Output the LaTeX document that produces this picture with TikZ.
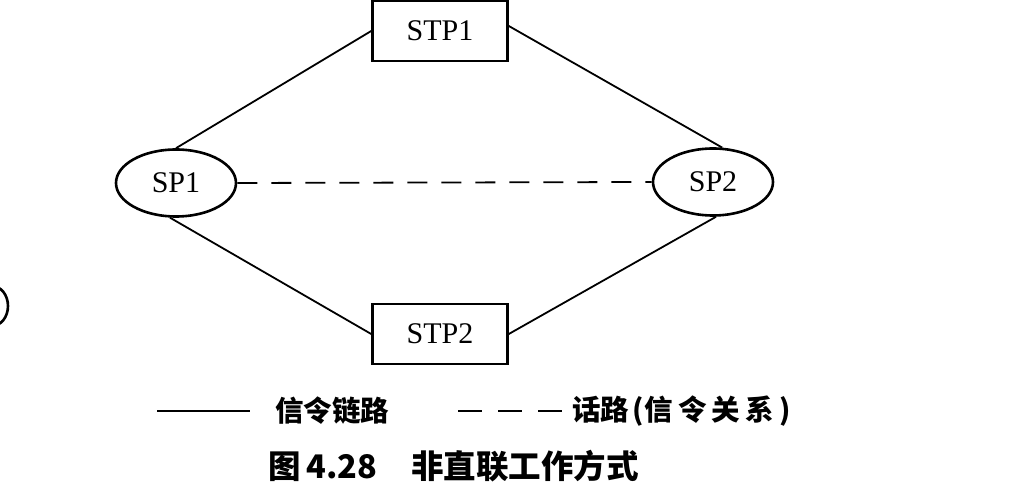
\documentclass[tikz,border=0pt]{standalone}
\usepackage{fontspec}
\setmainfont{Liberation Serif}
\newfontfamily\cjk{Noto Sans CJK SC}
\usetikzlibrary{shapes.geometric}
\tikzset{
  stpbox/.style={draw, line width=2.6pt, minimum width=135pt, minimum height=60pt, inner sep=0pt,
    font=\fontsize{30}{32}\selectfont},
  spell/.style={ellipse, draw, line width=2.6pt, minimum width=120pt, minimum height=67pt, inner sep=0pt,
    font=\fontsize{30}{32}\selectfont},
  link/.style={line width=1.8pt},
  rel/.style={line width=1.8pt, dash pattern=on 20pt off 14pt},
  legtext/.style={font=\cjk\bfseries\fontsize{28.5}{30}\selectfont, inner sep=0pt},
  captext/.style={font=\cjk\bfseries\fontsize{32.5}{34}\selectfont, inner sep=0pt}
}
\begin{document}
\begin{tikzpicture}[x=1pt, y=-1pt]
  \useasboundingbox (0,0) rectangle (1028,494);
  \fill[white] (0,0) rectangle (1028,494);
  % nodes
  \node[stpbox] (stp1) at (440,31) {STP1};
  \node[stpbox] (stp2) at (440,334) {STP2};
  \node[spell] (sp1) at (176,183) {SP1};
  \node[spell] (sp2) at (713,182) {SP2};
  % connectors
  \draw[link] (sp1.north) -- (stp1.west);
  \path (stp1.east) ++(0,-5) coordinate (s1e);
  \draw[link] (s1e) -- (sp2.75);
  \draw[link] (sp1.-100) -- (stp2.west);
  \draw[link] (sp2.-85) -- (stp2.east);
  \draw[rel] (sp1.east) -- (sp2.west);
  % partial circle at left edge
  \draw[line width=2.6pt] (-8,306) ellipse (16pt and 20pt);
  % legend
  \coordinate (la) at (157,411);
  \coordinate (lb) at (250,411);
  \draw[link] (la) -- (lb);
  \node[legtext, anchor=west] (lt1) at (275,411) {信令链路};
  \coordinate (lc) at (458,411);
  \coordinate (ld) at (562,411);
  \draw[line width=1.8pt, dash pattern=on 24pt off 16pt] (lc) -- (ld);
  \node[legtext, anchor=west] (lt2) at (572,411) {话路\hspace{3pt}(\hspace{1pt}信\hspace{5pt}令\hspace{5pt}关\hspace{5pt}系\hspace{6pt})};
  % caption
  \node[captext, anchor=west] (cap) at (268,466) {图\hspace{6pt}4.28\hspace{34pt}非直联工作方式};
\end{tikzpicture}
\end{document}
